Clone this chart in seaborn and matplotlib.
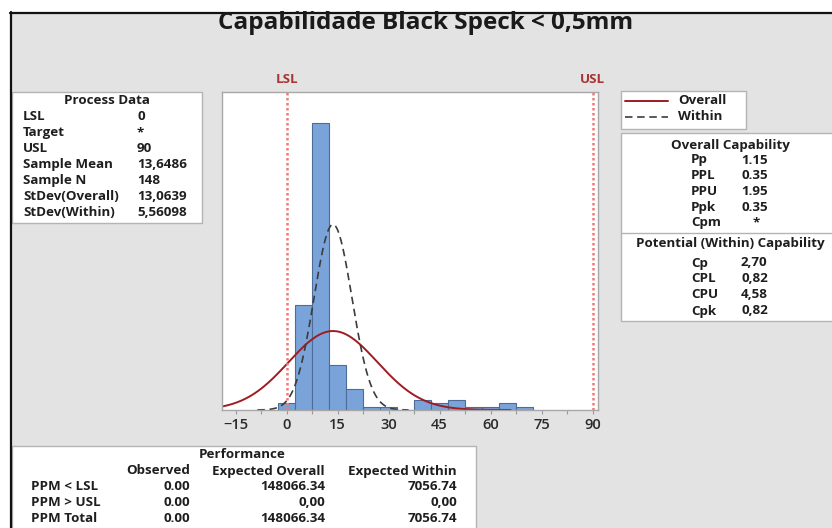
import numpy as np
import matplotlib
matplotlib.use("Agg")
import matplotlib.pyplot as plt
from matplotlib.patches import Rectangle
from matplotlib.lines import Line2D
import seaborn as sns

# ---- data -------------------------------------------------------------
bin_centers = [0, 5, 10, 15, 20, 25, 30, 35, 40, 45, 50, 55, 60, 65, 70]
bin_counts = [2, 30, 82, 13, 6, 1, 1, 0, 3, 2, 3, 1, 1, 2, 1]

lsl, usl = 0, 90
sample_mean = 13.6486
sample_n = 148
sd_overall = 13.0639
sd_within = 5.56098

process_labels = ["LSL", "Target", "USL", "Sample Mean", "Sample N",
                  "StDev(Overall)", "StDev(Within)"]
process_values = ["0", "*", "90", "13,6486", "148", "13,0639", "5,56098"]

overall_labels = ["Pp", "PPL", "PPU", "Ppk", "Cpm"]
overall_values = ["1.15", "0.35", "1.95", "0.35", "*"]
within_labels = ["Cp", "CPL", "CPU", "Cpk"]
within_values = ["2,70", "0,82", "4,58", "0,82"]

perf_rows = ["PPM < LSL", "PPM > USL", "PPM Total"]
perf_cols = ["Observed", "Expected Overall", "Expected Within"]
perf_observed = ["0.00", "0.00", "0.00"]
perf_exp_overall = ["148066.34", "0,00", "148066.34"]
perf_exp_within = ["7056.74", "0,00", "7056.74"]

x_ticks = [-15, 0, 15, 30, 45, 60, 75, 90]

# ---- style ------------------------------------------------------------
sns.set_theme(style="white")
plt.rcParams["font.family"] = ["Open Sans", "DejaVu Sans"]

W, H = 832, 528
fig = plt.figure(figsize=(W / 100, H / 100), dpi=100)
fig.patch.set_facecolor("white")


def fx(x):
    return x / W


def fy(y):
    return 1 - y / H


TXT = "#1e1e1e"
BOX_EDGE = "#b4b4b4"
FS = 9.6
WEIGHT = "bold"

# grey canvas with a dark border on the left and top
fig.add_artist(Rectangle((fx(10), 0), 1 - fx(10), fy(12), transform=fig.transFigure,
                         facecolor="#e3e3e3", edgecolor="none", zorder=0))
fig.add_artist(Line2D([fx(10), 1], [fy(12.5), fy(12.5)], transform=fig.transFigure,
                      color="#111111", lw=1.6))
fig.add_artist(Line2D([fx(10.5), fx(10.5)], [0, fy(12)], transform=fig.transFigure,
                      color="#111111", lw=1.6))

fig.text(fx(426), fy(23), "Capabilidade Black Speck < 0,5mm", ha="center", va="center",
         fontsize=17.5, fontweight="bold", color="#1a1a1a")

# ---- histogram with fitted normal curves -------------------------------
ax = fig.add_axes([fx(222), fy(410), (598 - 222) / W, (410 - 92) / H])
ax.set_facecolor("white")

sns.histplot(x=bin_centers, weights=bin_counts, binwidth=5, binrange=(-2.5, 72.5),
             color="#7aa4d9", edgecolor="#4e6d96", linewidth=0.8, alpha=1.0, ax=ax)

bin_w = 5
for sd, color, ls, lw in [(sd_overall, "#9e1c22", "-", 1.4),
                          (sd_within, "#3c3c3c", (0, (4.5, 2.8)), 1.2)]:
    xs = np.linspace(sample_mean - 4 * sd, sample_mean + 4 * sd, 400)
    ys = sample_n * bin_w * np.exp(-0.5 * ((xs - sample_mean) / sd) ** 2) / (sd * np.sqrt(2 * np.pi))
    sns.lineplot(x=xs, y=ys, ax=ax, color=color, linestyle=ls, linewidth=lw, legend=False)

for val, name in [(lsl, "LSL"), (usl, "USL")]:
    ax.axvline(val, color="#f07a7a", linestyle=(0, (1, 1)), linewidth=1.8, zorder=3)
    ax.text(val, 1.038, name, transform=ax.get_xaxis_transform(), ha="center", va="center",
            fontsize=FS, fontweight="bold", color="#a83434")

ax.set_xlim(-19.0, 91.6)
ax.set_ylim(0, 91)
ax.set_xticks(x_ticks)
ax.set_xticks([t + 7.5 for t in x_ticks[:-1]], minor=True)
ax.set_yticks([])
ax.set_xlabel("")
ax.set_ylabel("")
ax.tick_params(axis="x", which="both", direction="out", length=3, width=0.8,
               color="#9a9a9a", pad=3, labelsize=10.5, labelcolor="#2a2a2a", bottom=True)
for lab in ax.get_xticklabels():
    lab.set_fontweight("semibold")
for s in ax.spines.values():
    s.set_color("#a8a8a8")
    s.set_linewidth(1.0)


# ---- text panels -------------------------------------------------------
def box(x0, y0, x1, y1):
    fig.add_artist(Rectangle((fx(x0), fy(y1)), fx(x1) - fx(x0), fy(y0) - fy(y1),
                             transform=fig.transFigure, facecolor="white",
                             edgecolor=BOX_EDGE, linewidth=1.0, zorder=1))


def txt(x, y, s, ha="left", weight=WEIGHT):
    fig.text(fx(x), fy(y), s, ha=ha, va="center", fontsize=FS, color=TXT,
             fontweight=weight, zorder=2)


# process data
box(12, 92, 202, 223)
txt(107, 101, "Process Data", ha="center")
for i, (lab, val) in enumerate(zip(process_labels, process_values)):
    y = 117 + i * 15.9
    txt(23, y, lab)
    txt(137, y, val)

# legend
box(621, 91, 746, 129)
fig.add_artist(Line2D([fx(625), fx(668)], [fy(101), fy(101)], transform=fig.transFigure,
                      color="#9e1c22", lw=1.4, zorder=2))
fig.add_artist(Line2D([fx(625), fx(668)], [fy(117), fy(117)], transform=fig.transFigure,
                      color="#3c3c3c", lw=1.2, linestyle=(0, (4.5, 2.8)), zorder=2))
txt(678, 101, "Overall")
txt(678, 117, "Within")

# capability
box(621, 133, 845, 321)
fig.add_artist(Line2D([fx(621), 1], [fy(233), fy(233)], transform=fig.transFigure,
                      color=BOX_EDGE, lw=1.0, zorder=2))
txt(730, 145, "Overall Capability", ha="center")
for i, (lab, val) in enumerate(zip(overall_labels, overall_values)):
    y = 160 + i * 15.7
    txt(691, y, lab)
    txt(756 if val == "*" else 741, y, val, ha="center" if val == "*" else "left")
txt(730, 243, "Potential (Within) Capability", ha="center")
for i, (lab, val) in enumerate(zip(within_labels, within_values)):
    y = 263 + i * 16
    txt(691, y, lab)
    txt(741, y, val)

# performance
box(12, 446, 476, 545)
txt(242, 455, "Performance", ha="center")
for x, col in zip([190, 325, 457], perf_cols):
    txt(x, 471, col, ha="right")
for i, row in enumerate(perf_rows):
    y = 487 + i * 16
    txt(31, y, row)
    txt(190, y, perf_observed[i], ha="right")
    txt(325, y, perf_exp_overall[i], ha="right")
    txt(457, y, perf_exp_within[i], ha="right")

fig.savefig("out.png", dpi=100)
